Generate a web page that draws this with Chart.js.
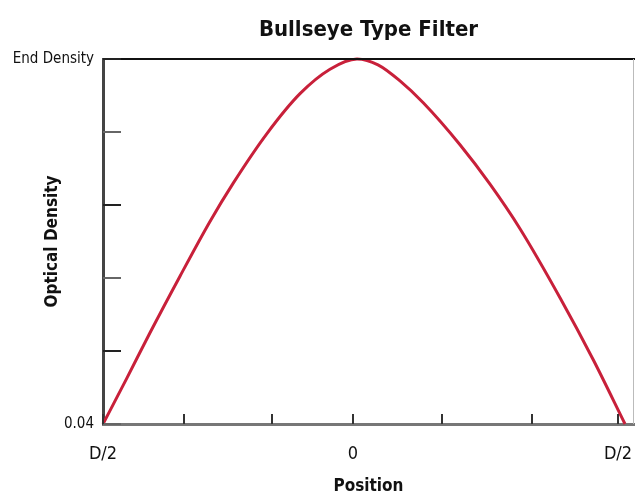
<!DOCTYPE html>
<html>
<head>
<meta charset="utf-8">
<script src="https://cdn.jsdelivr.net/npm/chart.js@4"></script>
<style>
  html, body { margin: 0; padding: 0; background: #fff; }
  #wrap { width: 635px; height: 497px; }
</style>
</head>
<body>
<div id="wrap"><canvas id="filterChart" width="635" height="497"></canvas></div>
<script>
// Position across the filter (-1 = one edge D/2, 0 = centre) and the optical density (0 = 0.04, 1 = end density)
const positions = [-1.0, -0.905, -0.812, -0.692, -0.572, -0.479, -0.345, -0.212, -0.092, 0.016, 0.1, 0.188, 0.281, 0.428, 0.548, 0.668, 0.828, 0.961, 1.088];
const densities = [0, 0.125, 0.25, 0.405, 0.555, 0.66, 0.795, 0.905, 0.972, 1.0, 0.984, 0.94, 0.88, 0.765, 0.657, 0.535, 0.346, 0.176, 0];

// Axis ticks
const xTickValues = [-1, -0.676, -0.324, 0, 0.356, 0.714, 1.06];
const xTickLabels = ['D/2', '', '', '0', '', '', 'D/2'];
const yTickValues = [0, 0.2, 0.4, 0.6, 0.8, 1];
const yTickLabels = ['0.04', '', '', '', '', 'End Density'];

const FONT = "'DejaVu Sans Condensed', 'Liberation Sans Narrow', 'Roboto', sans-serif";

// Draws the frame lines and the short inward ticks
const framePlugin = {
    id: 'frame',
    afterDraw(chart) {
        const ctx = chart.ctx;
        const area = chart.chartArea;
        const xScale = chart.scales.x;
        const yScale = chart.scales.y;
        ctx.save();
        // top border
        ctx.strokeStyle = '#111';
        ctx.lineWidth = 2;
        ctx.beginPath();
        ctx.moveTo(area.left, area.top);
        ctx.lineTo(area.right + 1, area.top);
        ctx.stroke();
        // right border
        ctx.strokeStyle = '#bbb';
        ctx.lineWidth = 1;
        ctx.beginPath();
        ctx.moveTo(area.right - 0.5, area.top);
        ctx.lineTo(area.right - 0.5, area.bottom);
        ctx.stroke();
        // y ticks pointing into the plot
        ctx.lineWidth = 2;
        yTickValues.forEach((v, i) => {
            const y = Math.round(yScale.getPixelForValue(v));
            ctx.strokeStyle = i % 2 ? '#222' : '#666';
            ctx.beginPath();
            ctx.moveTo(area.left, y);
            ctx.lineTo(area.left + 18, y);
            ctx.stroke();
        });
        // x ticks pointing up
        ctx.strokeStyle = '#333';
        xTickValues.forEach((v) => {
            const x = Math.round(xScale.getPixelForValue(v));
            ctx.beginPath();
            ctx.moveTo(x, area.bottom);
            ctx.lineTo(x, area.bottom - 10);
            ctx.stroke();
        });
        ctx.restore();
    }
};

const ctx = document.getElementById('filterChart').getContext('2d');
new Chart(ctx, {
    type: 'line',
    data: {
        datasets: [{
            data: positions.map((p, i) => ({ x: p, y: densities[i] })),
            borderColor: '#c8203a',
            borderWidth: 3,
            pointRadius: 0,
            cubicInterpolationMode: 'monotone',
            fill: false,
            clip: false
        }]
    },
    options: {
        responsive: false,
        animation: false,
        layout: { padding: { left: 0, right: 1, top: 0, bottom: 0 } },
        plugins: {
            legend: { display: false },
            tooltip: { enabled: false },
            title: {
                display: true,
                text: 'Bullseye Type Filter',
                fullSize: false,
                color: '#111',
                font: { family: FONT, size: 22, weight: 'bold', lineHeight: 1.2 },
                padding: { top: 17, bottom: 15.6 }
            }
        },
        scales: {
            x: {
                type: 'linear',
                min: -1,
                max: 1.124,
                afterFit(scale) {
                    scale.height = 73;
                    scale.paddingLeft = 0;
                    scale.paddingRight = 0;
                },
                afterBuildTicks(scale) { scale.ticks = xTickValues.map(v => ({ value: v })); },
                grid: { display: false, drawTicks: false },
                border: { display: true, color: '#777', width: 3 },
                ticks: {
                    autoSkip: false,
                    maxRotation: 0,
                    padding: 20,
                    color: '#111',
                    font: { family: FONT, size: 18 },
                    callback: (value, index) => xTickLabels[index]
                },
                title: {
                    display: true,
                    text: 'Position',
                    color: '#111',
                    font: { family: FONT, size: 17, weight: 'bold', lineHeight: 1.2 },
                    padding: { top: 0, bottom: 0 }
                }
            },
            y: {
                type: 'linear',
                min: 0,
                max: 1,
                afterFit(scale) { scale.width = 103; },
                afterBuildTicks(scale) { scale.ticks = yTickValues.map(v => ({ value: v })); },
                grid: { display: false, drawTicks: false },
                border: { display: true, color: '#444', width: 3 },
                ticks: {
                    autoSkip: false,
                    padding: 9,
                    color: '#111',
                    font: { family: FONT, size: 15 },
                    callback: (value, index) => yTickLabels[index]
                },
                title: {
                    display: true,
                    text: 'Optical Density',
                    color: '#111',
                    font: { family: FONT, size: 17, weight: 'bold', lineHeight: 1.2 },
                    padding: { top: 42, bottom: 0 }
                }
            }
        }
    },
    plugins: [framePlugin]
});
</script>
</body>
</html>
